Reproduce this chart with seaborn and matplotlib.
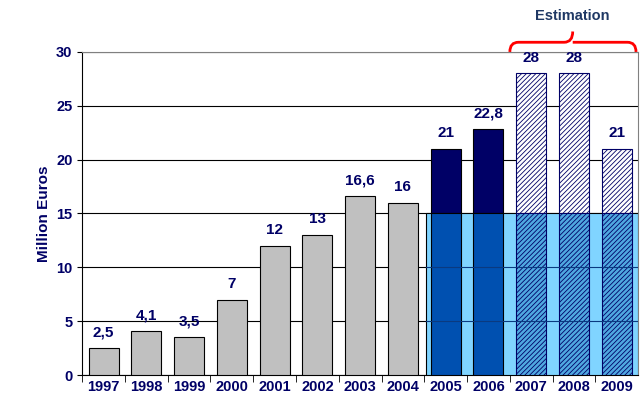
import matplotlib
matplotlib.use("Agg")
import matplotlib.pyplot as plt
import seaborn as sns
import numpy as np
from matplotlib.patches import Rectangle
from matplotlib.path import Path
from matplotlib.patches import PathPatch

years = ["1997", "1998", "1999", "2000", "2001", "2002", "2003", "2004",
         "2005", "2006", "2007", "2008", "2009"]
values = [2.5, 4.1, 3.5, 7, 12, 13, 16.6, 16, 21, 22.8, 28, 28, 21]
labels = ["2,5", "4,1", "3,5", "7", "12", "13", "16,6", "16", "21", "22,8", "28", "28", "21"]

NAVY = "#000066"
matplotlib.rcParams["font.family"] = "Liberation Sans"
matplotlib.rcParams["hatch.linewidth"] = 0.6
fig = plt.figure(figsize=(6.42, 4.19), dpi=100)
ax = fig.add_axes([0.128, 0.105, 0.866, 0.771])
sns.barplot(x=years, y=values, ax=ax, color="#C0C0C0", width=0.7,
            edgecolor="black", linewidth=0.8, saturation=1, zorder=3)
for i, p in enumerate(ax.patches):
    if years[i] in ("2005", "2006"):
        p.set_facecolor(NAVY)
    elif years[i] in ("2007", "2008", "2009"):
        p.set_facecolor("white")
        p.set_hatch("///////")
        p.set_edgecolor(NAVY)
    ax.text(p.get_x() + p.get_width() / 2, p.get_height() + 0.8, labels[i],
            ha="center", va="bottom", fontsize=11, fontweight="bold", color=NAVY)

ax.set_xlim(-0.5, 12.5)
ax.set_ylim(0, 30)
ax.set_yticks(range(0, 31, 5))
ax.yaxis.grid(True, color="black", linewidth=0.8)
ax.set_axisbelow(True)

# highlighted 0-15 band over the last five years
ax.add_patch(Rectangle((7.55, 0), 4.95, 15, facecolor="#80D4FF",
                       edgecolor="black", linewidth=0.8, zorder=4))
for i in range(8, 13):
    p = ax.patches[i]
    low = min(values[i], 15)
    if i < 10:
        ax.bar(i, low, width=0.7, color="#0050B0", edgecolor="black", linewidth=0.8, zorder=5)
    else:
        ax.bar(i, low, width=0.7, color="#4FA8E0", edgecolor=NAVY, hatch="///////",
               linewidth=0.8, zorder=5)
for yv in (5, 10):
    ax.plot([7.55, 12.5], [yv, yv], color="#0A3A80", linewidth=0.8, zorder=6)

ax.set_xticks(np.arange(-0.5, 12.5, 1), minor=True)
ax.tick_params(axis="x", which="major", length=0, labelsize=10.5, labelcolor=NAVY)
ax.tick_params(axis="x", which="minor", length=5)
ax.tick_params(axis="y", labelsize=10.5, labelcolor=NAVY)
for t in ax.get_xticklabels() + ax.get_yticklabels():
    t.set_fontweight("bold")
ax.set_ylabel("Million Euros", fontsize=11, fontweight="bold", color=NAVY)
for s in ["top", "right"]:
    ax.spines[s].set_color("#808080")

# brace over estimation years
x0, x1, xm = 9.5, 12.45, 10.97
yb, ym, yt = 30.0, 30.9, 31.9
verts = [(x0, yb), (x0, ym), (x0 + 0.2, ym), (xm - 0.2, ym), (xm, ym), (xm, yt),
         (xm, ym), (xm + 0.2, ym), (x1 - 0.2, ym), (x1, ym), (x1, yb)]
codes = [Path.MOVETO, Path.CURVE3, Path.CURVE3, Path.LINETO, Path.CURVE3, Path.CURVE3,
         Path.MOVETO, Path.CURVE3, Path.LINETO, Path.CURVE3, Path.CURVE3]
ax.add_patch(PathPatch(Path(verts, codes), facecolor="none", edgecolor="red",
                       linewidth=2, clip_on=False))
ax.text(xm, 33.3, "Estimation", ha="center", va="center", fontsize=10.5,
        fontweight="bold", color="#1F3864", clip_on=False)

fig.savefig("out.png", dpi=100)
